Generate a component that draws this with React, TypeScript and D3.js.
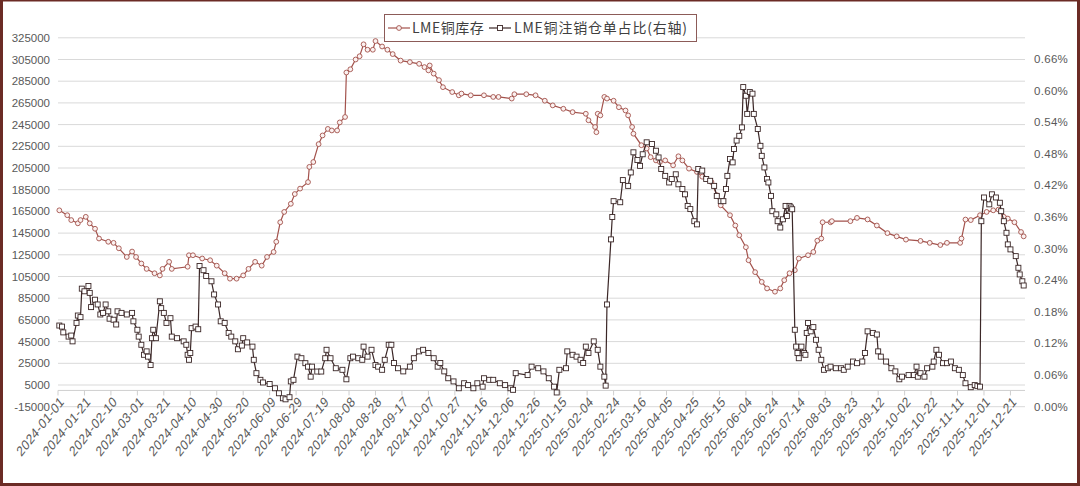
import React from 'react';
import * as d3 from 'd3';

// ---------- data ----------
const xTickLabels = [
  '2024-01-01','2024-01-21','2024-02-10','2024-03-01','2024-03-21','2024-04-10','2024-04-30',
  '2024-05-20','2024-06-09','2024-06-29','2024-07-19','2024-08-08','2024-08-28','2024-09-17',
  '2024-10-07','2024-10-27','2024-11-16','2024-12-06','2024-12-26','2025-01-15','2025-02-04',
  '2025-02-24','2025-03-16','2025-04-05','2025-04-25','2025-05-15','2025-06-04','2025-06-24',
  '2025-07-14','2025-08-03','2025-08-23','2025-09-12','2025-10-02','2025-10-22','2025-11-11',
  '2025-12-01','2025-12-21'
];
const leftTicks = [-15000,5000,25000,45000,65000,85000,105000,125000,145000,165000,185000,205000,225000,245000,265000,285000,305000,325000];
const rightTicks = [0,0.06,0.12,0.18,0.24,0.30,0.36,0.42,0.48,0.54,0.60,0.66];

const seriesNames = ['LME铜库存', 'LME铜注销仓单占比(右轴)'];

const inventoryDates = [
  '2024-01-02','2024-01-08','2024-01-11','2024-01-16','2024-01-18','2024-01-22','2024-01-25','2024-01-29',
  '2024-02-01','2024-02-08','2024-02-12','2024-02-16','2024-02-22','2024-02-26','2024-02-29','2024-03-04',
  '2024-03-08','2024-03-14','2024-03-18','2024-03-20','2024-03-25','2024-03-27','2024-04-08','2024-04-09',
  '2024-04-12','2024-04-19','2024-04-25','2024-04-30','2024-05-06','2024-05-10','2024-05-15','2024-05-20',
  '2024-05-24','2024-05-29','2024-06-03','2024-06-07','2024-06-12','2024-06-14','2024-06-17','2024-06-20',
  '2024-06-25','2024-06-28','2024-07-02','2024-07-08','2024-07-09','2024-07-12','2024-07-16','2024-07-19',
  '2024-07-23','2024-07-26','2024-07-30','2024-08-01','2024-08-05','2024-08-06','2024-08-09','2024-08-13',
  '2024-08-16','2024-08-19','2024-08-22','2024-08-26','2024-08-28','2024-09-02','2024-09-06','2024-09-10',
  '2024-09-16','2024-09-23','2024-09-30','2024-10-04','2024-10-07','2024-10-08','2024-10-11','2024-10-15',
  '2024-10-18','2024-10-25','2024-10-30','2024-11-01','2024-11-08','2024-11-18','2024-11-25','2024-11-29',
  '2024-12-09','2024-12-11','2024-12-20','2024-12-27','2025-01-03','2025-01-09','2025-01-17','2025-01-24',
  '2025-02-03','2025-02-05','2025-02-10','2025-02-11','2025-02-12','2025-02-14','2025-02-17','2025-02-19',
  '2025-02-24','2025-02-28','2025-03-05','2025-03-07','2025-03-10','2025-03-11','2025-03-17','2025-03-21',
  '2025-03-24','2025-03-28','2025-03-31','2025-04-04','2025-04-10','2025-04-14','2025-04-17','2025-04-22',
  '2025-04-28','2025-05-02','2025-05-09','2025-05-13','2025-05-16','2025-05-23','2025-05-27','2025-05-30',
  '2025-06-04','2025-06-06','2025-06-11','2025-06-16','2025-06-20','2025-06-26','2025-06-30','2025-07-03',
  '2025-07-07','2025-07-11','2025-07-14','2025-07-21','2025-07-25','2025-07-28','2025-07-31','2025-08-01',
  '2025-08-07','2025-08-08','2025-08-22','2025-08-27','2025-09-04','2025-09-11','2025-09-19','2025-09-26',
  '2025-10-03','2025-10-14','2025-10-21','2025-10-29','2025-11-03','2025-11-13','2025-11-14','2025-11-17',
  '2025-11-21','2025-11-28','2025-12-03','2025-12-08','2025-12-12','2025-12-16','2025-12-19','2025-12-24',
  '2025-12-29','2025-12-31'
];
const inventory = [
  166000,161500,157000,154000,157000,160000,154000,149000,
  140000,137000,136000,131000,123000,128000,123000,117000,
  112000,108000,106000,112000,118500,112000,114000,124600,
  124600,121600,120000,115000,108000,103000,103000,106000,
  112000,118500,115000,123000,127600,137000,155000,164500,
  172000,181000,186000,192000,206000,210500,227000,235000,
  241000,239600,239600,247000,252000,293000,296000,305000,
  308000,319000,314000,314000,322000,317000,314000,310000,
  304000,302600,301000,298000,295000,299500,292000,286000,
  279500,275000,272000,273600,272000,272000,270500,270500,
  269000,273000,273000,272000,267000,262700,259600,256500,
  255000,249000,242800,238000,255000,253500,270500,269000,
  267000,261000,258000,253500,242800,236600,226000,223000,
  215000,212000,210500,212000,207500,215800,212000,204400,
  201400,197000,192000,180000,170600,161500,152000,143000,
  132000,120000,109000,100000,94000,91000,94000,101600,
  108000,110800,121600,124600,127600,138000,140000,155000,
  155000,156000,156000,159000,157600,152000,145000,142000,
  139000,137800,136000,134000,136000,136000,140000,157500,
  157000,161500,164500,166000,166700,160000,158400,155000,
  146000,142000
];

const ratioDates = [
  '2024-01-02','2024-01-04','2024-01-05','2024-01-09','2024-01-11','2024-01-12','2024-01-15','2024-01-16',
  '2024-01-18','2024-01-19','2024-01-21','2024-01-24','2024-01-25','2024-01-26','2024-01-29','2024-01-31',
  '2024-02-02','2024-02-04','2024-02-06','2024-02-08','2024-02-09','2024-02-12','2024-02-14','2024-02-15',
  '2024-02-18','2024-02-22','2024-02-26','2024-02-27','2024-03-01','2024-03-02','2024-03-04','2024-03-06',
  '2024-03-08','2024-03-09','2024-03-11','2024-03-12','2024-03-13','2024-03-15','2024-03-18','2024-03-19',
  '2024-03-21','2024-03-23','2024-03-26','2024-03-27','2024-03-31','2024-04-05','2024-04-07','2024-04-08',
  '2024-04-09','2024-04-10','2024-04-11','2024-04-14','2024-04-16','2024-04-17','2024-04-20','2024-04-22',
  '2024-04-26','2024-04-28','2024-05-01','2024-05-03','2024-05-06','2024-05-09','2024-05-11','2024-05-14',
  '2024-05-16','2024-05-19','2024-05-20','2024-05-23','2024-05-27','2024-05-28','2024-05-30','2024-06-02',
  '2024-06-04','2024-06-09','2024-06-13','2024-06-16','2024-06-19','2024-06-21','2024-06-24','2024-06-25',
  '2024-06-27','2024-06-30','2024-07-03','2024-07-06','2024-07-08','2024-07-10','2024-07-11','2024-07-15',
  '2024-07-18','2024-07-21','2024-07-22','2024-07-25','2024-07-29','2024-08-03','2024-08-06','2024-08-09',
  '2024-08-11','2024-08-15','2024-08-18','2024-08-19','2024-08-22','2024-08-25','2024-08-28','2024-08-30',
  '2024-09-02','2024-09-04','2024-09-07','2024-09-09','2024-09-11','2024-09-14','2024-09-18','2024-09-23',
  '2024-09-26','2024-09-30','2024-10-03','2024-10-07','2024-10-11','2024-10-14','2024-10-16','2024-10-19',
  '2024-10-22','2024-10-26','2024-10-30','2024-11-03','2024-11-06','2024-11-10','2024-11-13','2024-11-17',
  '2024-11-18','2024-11-22','2024-11-25','2024-11-30','2024-12-04','2024-12-08','2024-12-10','2024-12-12',
  '2024-12-21','2024-12-24','2024-12-29','2025-01-02','2025-01-06','2025-01-10','2025-01-12','2025-01-14',
  '2025-01-19','2025-01-20','2025-01-24','2025-01-27','2025-01-30','2025-02-01','2025-02-03','2025-02-05',
  '2025-02-09','2025-02-12','2025-02-14','2025-02-17','2025-02-18','2025-02-19','2025-02-22','2025-02-23',
  '2025-02-24','2025-03-01','2025-03-03','2025-03-07','2025-03-09','2025-03-11','2025-03-14','2025-03-16',
  '2025-03-18','2025-03-21','2025-03-25','2025-03-28','2025-03-30','2025-04-01','2025-04-04','2025-04-07',
  '2025-04-09','2025-04-12','2025-04-14','2025-04-17','2025-04-19','2025-04-21','2025-04-23','2025-04-26',
  '2025-04-28','2025-04-29','2025-05-02','2025-05-05','2025-05-08','2025-05-11','2025-05-13','2025-05-16',
  '2025-05-18','2025-05-20','2025-05-21','2025-05-23','2025-05-25','2025-05-26','2025-05-28','2025-05-30',
  '2025-06-01','2025-06-02','2025-06-04','2025-06-05','2025-06-07','2025-06-09','2025-06-10','2025-06-13',
  '2025-06-15','2025-06-16','2025-06-18','2025-06-20','2025-06-21','2025-06-23','2025-06-24','2025-06-27',
  '2025-06-28','2025-06-30','2025-07-02','2025-07-04','2025-07-05','2025-07-07','2025-07-08','2025-07-09',
  '2025-07-11','2025-07-12','2025-07-13','2025-07-14','2025-07-16','2025-07-18','2025-07-19','2025-07-20',
  '2025-07-21','2025-07-23','2025-07-25','2025-07-27','2025-07-29','2025-07-31','2025-08-02','2025-08-05',
  '2025-08-07','2025-08-11','2025-08-15','2025-08-17','2025-08-20','2025-08-24','2025-08-27','2025-08-31',
  '2025-09-02','2025-09-04','2025-09-08','2025-09-11','2025-09-12','2025-09-14','2025-09-18','2025-09-22',
  '2025-09-25','2025-09-28','2025-09-30','2025-10-05','2025-10-09','2025-10-11','2025-10-12','2025-10-14',
  '2025-10-17','2025-10-19','2025-10-23','2025-10-24','2025-10-26','2025-10-28','2025-10-31','2025-11-03',
  '2025-11-06','2025-11-09','2025-11-12','2025-11-15','2025-11-17','2025-11-21','2025-11-24','2025-11-26',
  '2025-11-28','2025-11-29','2025-12-01','2025-12-05','2025-12-07','2025-12-10','2025-12-13','2025-12-14',
  '2025-12-16','2025-12-18','2025-12-19','2025-12-21','2025-12-25','2025-12-27','2025-12-28','2025-12-30',
  '2025-12-31'
];
const ratio = [
  0.154,0.152,0.141,0.133,0.135,0.124,0.159,0.173,
  0.170,0.224,0.219,0.229,0.216,0.189,0.203,0.194,
  0.175,0.178,0.194,0.181,0.167,0.165,0.156,0.181,
  0.178,0.175,0.178,0.162,0.146,0.133,0.1175,0.0985,
  0.105,0.095,0.079,0.130,0.146,0.130,0.200,0.187,
  0.178,0.159,0.168,0.133,0.130,0.124,0.1175,0.0985,
  0.089,0.102,0.149,0.152,0.147,0.267,0.259,0.248,
  0.238,0.213,0.194,0.162,0.159,0.140,0.133,0.124,
  0.109,0.116,0.130,0.122,0.114,0.089,0.0636,0.051,
  0.046,0.043,0.035,0.0255,0.016,0.014,0.018,0.048,
  0.051,0.095,0.092,0.0826,0.076,0.057,0.076,0.0667,
  0.0667,0.092,0.108,0.092,0.073,0.070,0.052,0.092,
  0.095,0.092,0.089,0.114,0.095,0.108,0.079,0.076,
  0.070,0.089,0.1175,0.1175,0.083,0.073,0.067,0.076,
  0.092,0.105,0.108,0.102,0.092,0.076,0.083,0.067,
  0.054,0.048,0.035,0.0445,0.041,0.035,0.0445,0.038,
  0.054,0.051,0.051,0.0445,0.041,0.035,0.032,0.0636,
  0.060,0.076,0.073,0.067,0.054,0.038,0.027,0.070,
  0.073,0.105,0.0985,0.095,0.089,0.083,0.114,0.102,
  0.124,0.108,0.076,0.057,0.040,0.194,0.3175,0.360,
  0.390,0.388,0.430,0.419,0.4445,0.4827,0.468,0.457,
  0.479,0.5017,0.4985,0.4857,0.473,0.451,0.438,0.4255,
  0.432,0.441,0.422,0.413,0.403,0.381,0.375,0.352,
  0.346,0.451,0.448,0.432,0.4286,0.419,0.400,0.390,
  0.390,0.413,0.438,0.470,0.4636,0.489,0.505,0.514,
  0.530,0.6065,0.590,0.5556,0.597,0.594,0.5556,0.527,
  0.495,0.476,0.454,0.432,0.4255,0.400,0.371,0.365,
  0.352,0.340,0.3556,0.381,0.362,0.381,0.378,0.3747,
  0.146,0.114,0.102,0.092,0.114,0.102,0.0985,0.140,
  0.1588,0.143,0.151,0.127,0.108,0.089,0.070,0.073,
  0.076,0.073,0.073,0.070,0.076,0.0857,0.0826,0.0857,
  0.102,0.143,0.140,0.137,0.105,0.095,0.0857,0.073,
  0.067,0.052,0.057,0.060,0.060,0.076,0.057,0.0636,
  0.057,0.073,0.076,0.0857,0.108,0.0985,0.0826,0.0826,
  0.0857,0.073,0.070,0.060,0.0445,0.037,0.041,0.039,
  0.038,0.352,0.397,0.384,0.403,0.397,0.387,0.371,
  0.352,0.330,0.308,0.2985,0.2857,0.2636,0.251,0.238,
  0.230
];

// ---------- layout ----------
const W = 1080;
const H = 486;
const plotLeft = 58;
const plotRight = 1025;
const plotTop = 37.8;
const plotBottom = 406.7;

const BROWN = '#a3524c';
const DARK = '#3b2727';
const GRID = '#d9d9d9';
const LABEL = '#595959';

const parse = d3.timeParse('%Y-%m-%d');

export default function App() {
  const x = d3.scaleTime()
    .domain([parse('2024-01-01') as Date, parse('2026-01-01') as Date])
    .range([plotLeft, plotRight]);
  const yL = d3.scaleLinear().domain([-15000, 325000]).range([plotBottom, plotTop]);
  const yR = d3.scaleLinear().domain([0, 0.70]).range([plotBottom, plotTop]);

  const invData = inventoryDates.map((d, i) => ({ d: parse(d) as Date, v: inventory[i] }));
  const ratData = ratioDates.map((d, i) => ({ d: parse(d) as Date, v: ratio[i] }));

  const invLine = d3.line<{ d: Date; v: number }>().x(p => x(p.d)).y(p => yL(p.v));
  const ratLine = d3.line<{ d: Date; v: number }>().x(p => x(p.d)).y(p => yR(p.v));

  const axisY = yL(0);
  const numFont = '"Liberation Sans", Arial, sans-serif';
  const cjkFont = '"Noto Sans CJK SC", "Liberation Sans", sans-serif';

  return (
    <svg width={W} height={H} style={{ position: 'absolute', left: 0, top: 0, background: '#fff' }}>
      <rect x={0} y={0} width={W} height={H} fill="#fff" />
      {/* gridlines */}
      {leftTicks.map(t => (
        <line key={'g' + t} x1={plotLeft} x2={plotRight} y1={yL(t)} y2={yL(t)} stroke={GRID} strokeWidth={1} />
      ))}
      {/* x axis line at 0 */}
      <line x1={plotLeft} x2={plotRight} y1={axisY} y2={axisY} stroke="#cfcfcf" strokeWidth={1} />
      {xTickLabels.map(t => {
        const px = x(parse(t) as Date);
        return <line key={'t' + t} x1={px} x2={px} y1={axisY} y2={axisY + 5} stroke="#cfcfcf" strokeWidth={1} />;
      })}
      {/* left labels */}
      {leftTicks.map(t => (
        <text key={'l' + t} x={50} y={yL(t)} dy="0.35em" textAnchor="end" fontFamily={numFont} fontSize={11.5} fill={LABEL}>
          {String(t)}
        </text>
      ))}
      {/* right labels */}
      {rightTicks.map(t => (
        <text key={'r' + t} x={1034} y={yR(t)} dy="0.35em" textAnchor="start" fontFamily={numFont} fontSize={11.5} letterSpacing={0.3} fill={LABEL}>
          {t.toFixed(2) + '%'}
        </text>
      ))}
      {/* x labels */}
      {xTickLabels.map(t => {
        const px = x(parse(t) as Date) + 4;
        const py = 399;
        return (
          <text key={'x' + t} x={0} y={0} dy="0.35em" textAnchor="end"
            transform={`translate(${px} ${py}) scale(1 1.25) rotate(-45)`}
            fontFamily={numFont} fontSize={11.5} letterSpacing={0.3} fill={LABEL}>
            {t}
          </text>
        );
      })}
      {/* inventory series */}
      <path d={invLine(invData) || ''} fill="none" stroke={BROWN} strokeWidth={1.2} />
      {invData.map((p, i) => (
        <circle key={'c' + i} cx={x(p.d)} cy={yL(p.v)} r={2.4} fill="#fbf1f0" stroke={BROWN} strokeWidth={0.9} />
      ))}
      {/* ratio series */}
      <path d={ratLine(ratData) || ''} fill="none" stroke={DARK} strokeWidth={1.2} />
      {ratData.map((p, i) => (
        <rect key={'s' + i} x={x(p.d) - 2.5} y={yR(p.v) - 2.5} width={5} height={5} fill="#ffffff" stroke={DARK} strokeWidth={0.9} />
      ))}
      {/* legend */}
      <rect x={384.5} y={14.5} width={312} height={27} fill="#fff" stroke="#8c5b58" strokeWidth={1} />
      <line x1={388} x2={410} y1={28} y2={28} stroke={BROWN} strokeWidth={1.2} />
      <circle cx={399} cy={28} r={2.4} fill="#fbf1f0" stroke={BROWN} strokeWidth={0.9} />
      <text x={412} y={28} dy="0.35em" fontFamily={cjkFont} fontSize={14} letterSpacing={0.5} fill="#404040">{seriesNames[0]}</text>
      <line x1={489} x2={511} y1={28} y2={28} stroke={DARK} strokeWidth={1.2} />
      <rect x={497.5} y={25.5} width={5} height={5} fill="#fff" stroke={DARK} strokeWidth={0.9} />
      <text x={514} y={28} dy="0.35em" fontFamily={cjkFont} fontSize={14} letterSpacing={0.8} fill="#404040">{seriesNames[1]}</text>
      {/* frame */}
      <line x1={0} x2={W} y1={0.75} y2={0.75} stroke="#6b2b25" strokeWidth={1.5} />
      <line x1={1.5} x2={1.5} y1={0} y2={H} stroke="#6b2b25" strokeWidth={3} />
      <line x1={W - 1.5} x2={W - 1.5} y1={0} y2={H} stroke="#6b2b25" strokeWidth={3} />
      <line x1={0} x2={W} y1={H - 1.5} y2={H - 1.5} stroke="#6b2b25" strokeWidth={3} />
    </svg>
  );
}
